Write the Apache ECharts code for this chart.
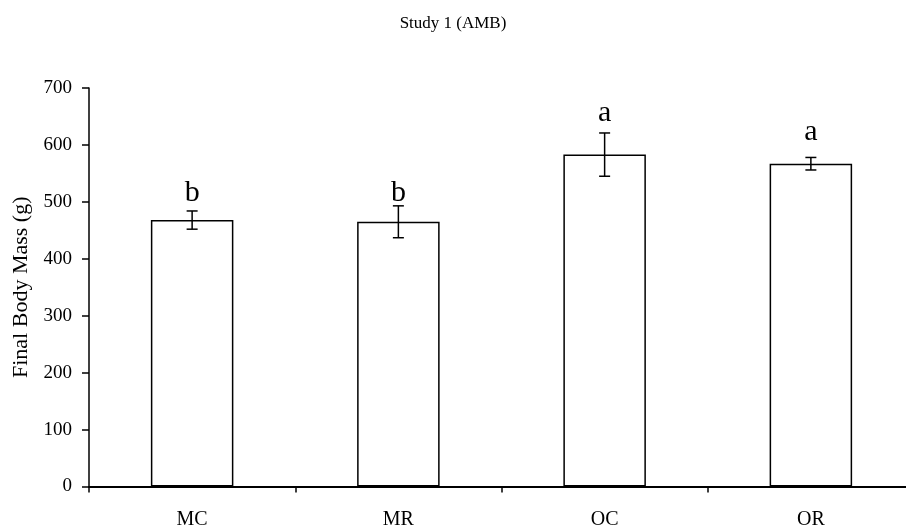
<!DOCTYPE html>
<html>
<head>
<meta charset="utf-8">
<script src="https://cdn.jsdelivr.net/npm/echarts@6/dist/echarts.min.js"></script>
<style>
html,body{margin:0;padding:0;background:#fff;}
#chart{width:906px;height:529px;}
</style>
</head>
<body>
<div id="chart"></div>
<script>
var categories = ['MC', 'MR', 'OC', 'OR'];
var means = [468, 465, 583, 567];
var errors = [16, 28, 38, 11];
var letters = ['b', 'b', 'a', 'a'];
var letterBase = [500, 500, 640, 606];
var yTicks = [0, 100, 200, 300, 400, 500, 600, 700];

var FONT = '"Liberation Serif", "Times New Roman", serif';
var chart = echarts.init(document.getElementById('chart'));

var option = {
  backgroundColor: '#ffffff',
  animation: false,
  title: {
    text: 'Study 1 (AMB)',
    left: 'center',
    top: 10,
    textStyle: { fontFamily: FONT, fontSize: 17, fontWeight: 'normal', color: '#000' }
  },
  grid: { left: 89, width: 825, top: 88, bottom: 42.5, containLabel: false, outerBoundsMode: 'none' },
  xAxis: {
    type: 'category',
    data: categories,
    axisLine: { lineStyle: { color: '#000', width: 2 } },
    axisTick: { show: true, length: 6, lineStyle: { color: '#000', width: 1.5 } },
    axisLabel: { color: '#000', fontFamily: FONT, fontSize: 20, margin: 23 },
    splitLine: { show: false }
  },
  yAxis: {
    type: 'value',
    min: yTicks[0],
    max: yTicks[yTicks.length - 1],
    interval: 100,
    name: 'Final Body Mass (g)',
    nameLocation: 'middle',
    nameGap: 57,
    nameTextStyle: { color: '#000', fontFamily: FONT, fontSize: 22 },
    axisLine: { show: true, lineStyle: { color: '#000', width: 1.5 } },
    axisTick: { show: true, length: 7, lineStyle: { color: '#000', width: 1.5 } },
    axisLabel: { color: '#000', fontFamily: FONT, fontSize: 19, margin: 17 },
    splitLine: { show: false }
  },
  series: [
    {
      type: 'bar',
      data: means,
      barWidth: '40%',
      itemStyle: { color: '#fff', borderColor: '#000', borderWidth: 1.5 },
      z: 2
    },
    {
      type: 'custom',
      z: 3,
      data: means.map(function (m, i) { return [i, m - errors[i], m + errors[i]]; }),
      renderItem: function (params, api) {
        var x = api.value(0);
        var lo = api.coord([x, api.value(1)]);
        var hi = api.coord([x, api.value(2)]);
        var cw = 5.5;
        var st = { stroke: '#000', lineWidth: 1.5 };
        return {
          type: 'group',
          children: [
            { type: 'line', shape: { x1: lo[0], y1: lo[1], x2: hi[0], y2: hi[1] }, style: st },
            { type: 'line', shape: { x1: lo[0] - cw, y1: lo[1], x2: lo[0] + cw, y2: lo[1] }, style: st },
            { type: 'line', shape: { x1: hi[0] - cw, y1: hi[1], x2: hi[0] + cw, y2: hi[1] }, style: st }
          ]
        };
      }
    },
    {
      type: 'custom',
      z: 4,
      data: letterBase.map(function (v, i) { return [i, v]; }),
      renderItem: function (params, api) {
        var p = api.coord([api.value(0), api.value(1)]);
        return {
          type: 'text',
          x: p[0],
          y: p[1] + 6,
          style: {
            text: letters[params.dataIndex],
            fill: '#000',
            font: '30px ' + FONT,
            textAlign: 'center',
            textVerticalAlign: 'bottom'
          }
        };
      }
    }
  ]
};
chart.setOption(option);
</script>
</body>
</html>
